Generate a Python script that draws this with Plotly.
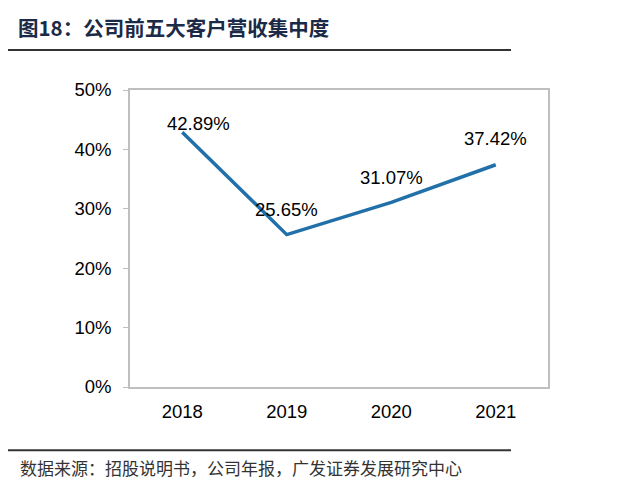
import plotly.graph_objects as go

years = ["2018", "2019", "2020", "2021"]
concentration = [42.89, 25.65, 31.07, 37.42]
labels = ["42.89%", "25.65%", "31.07%", "37.42%"]
y_ticks = [0, 10, 20, 30, 40, 50]
y_tick_text = ["0%", "10%", "20%", "30%", "40%", "50%"]

title_text = "图18：公司前五大客户营收集中度"
source_text = "数据来源：招股说明书，公司年报，广发证券发展研究中心"

fig = go.Figure()
fig.add_trace(go.Scatter(
    x=years, y=concentration, mode="lines",
    line=dict(color="#2270A9", width=3.5),
    hoverinfo="skip", showlegend=False,
))

shifts = [(16, 9), (0, 25), (0, 25), (0, 26)]
for i, (v, t, (dx, dy)) in enumerate(zip(concentration, labels, shifts)):
    fig.add_annotation(x=i, y=v, text=t, showarrow=False,
                       xshift=dx, yshift=dy,
                       font=dict(family="Liberation Sans, Arial", size=18.5, color="#000000"))

fig.update_layout(
    width=633, height=487,
    margin=dict(l=122, r=93, t=82, b=108),
    paper_bgcolor="white", plot_bgcolor="white",
    xaxis=dict(
        type="category", showgrid=False, showline=True, linecolor="#BFBFBF", linewidth=1.5,
        mirror=True, ticks="", ticklabelstandoff=7,
        tickfont=dict(family="Liberation Sans, Arial", size=18.5, color="#000000"),
        range=[-0.5, 3.5],
    ),
    yaxis=dict(
        range=[0, 50], tickvals=y_ticks, ticktext=y_tick_text,
        showgrid=False, zeroline=False, showline=True, linecolor="#BFBFBF", linewidth=1.5,
        mirror=True, ticks="outside", ticklen=5, tickcolor="#BFBFBF", ticklabelstandoff=8,
        tickfont=dict(family="Liberation Sans, Arial", size=18.5, color="#000000"),
    ),
    shapes=[
        dict(type="line", xref="paper", yref="paper", x0=-0.294, x1=0.9115, y0=1.1347, y1=1.1347,
             line=dict(color="#333333", width=2)),
        dict(type="line", xref="paper", yref="paper", x0=-0.294, x1=0.9115, y0=-0.2128, y1=-0.2128,
             line=dict(color="#333333", width=2)),
    ],
)

fig.add_annotation(text="<b>" + title_text + "</b>", xref="paper", yref="paper",
                   x=-0.273, y=1.2135, xanchor="left", yanchor="middle", showarrow=False,
                   font=dict(family="Noto Sans CJK SC", size=20.5, color="#1B2A47"))
fig.add_annotation(text=source_text, xref="paper", yref="paper",
                   x=-0.268, y=-0.272, xanchor="left", yanchor="middle", showarrow=False,
                   font=dict(family="Noto Sans CJK SC", size=17, color="#333333"))

fig.write_html("out.html")
